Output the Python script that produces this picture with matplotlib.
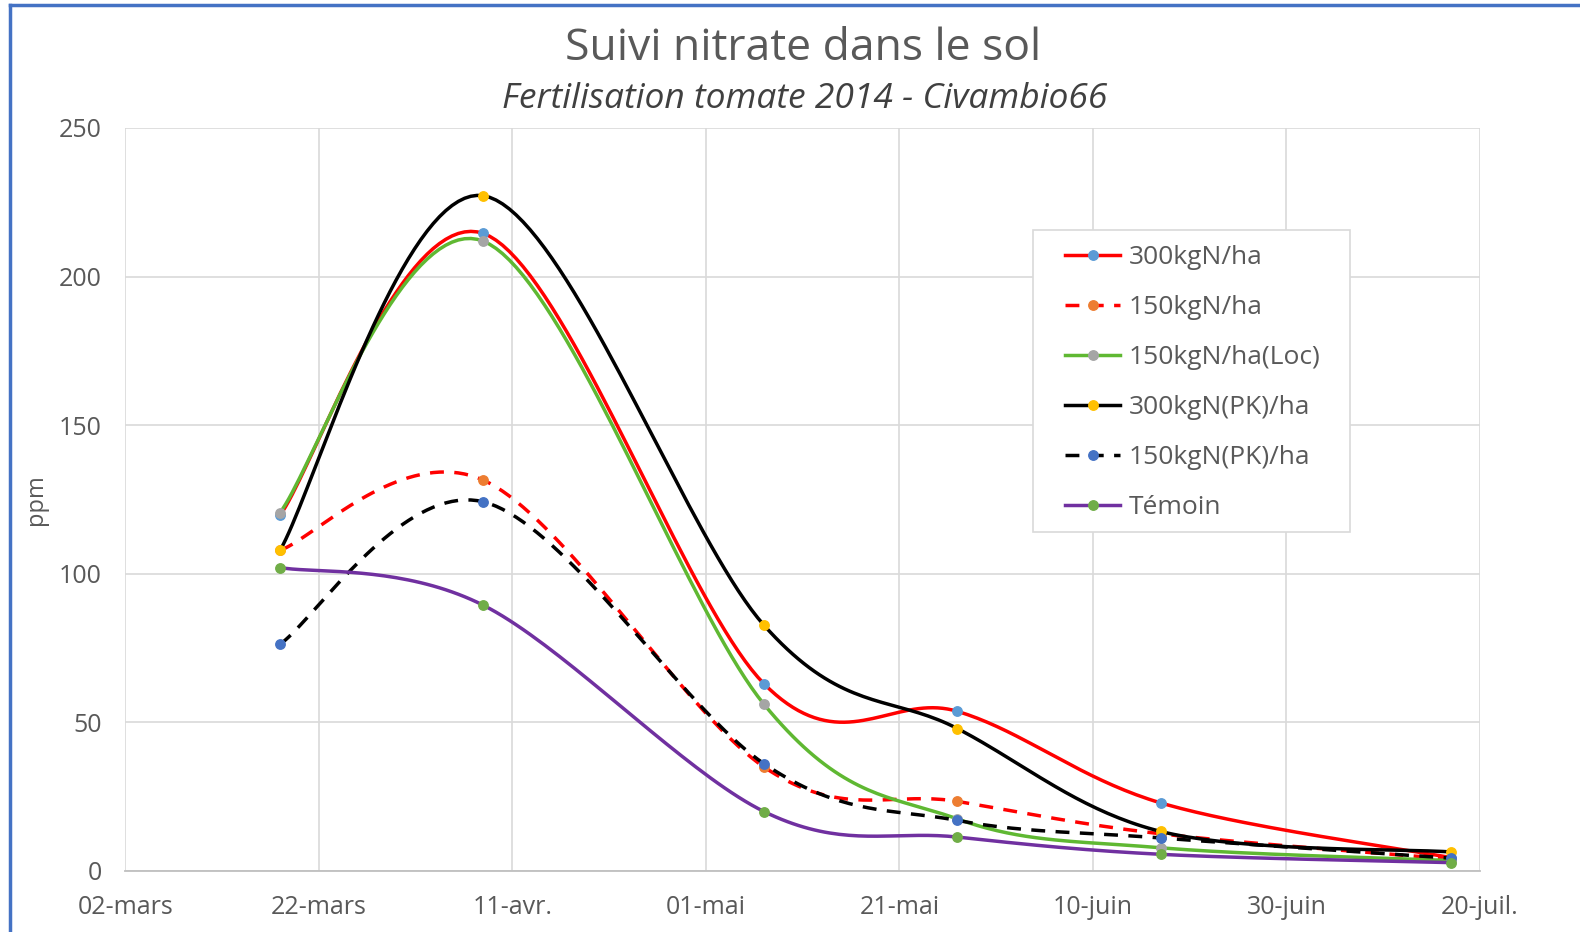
import numpy as np
import matplotlib
matplotlib.use("Agg")
import matplotlib.pyplot as plt
import matplotlib.dates as mdates
from matplotlib.lines import Line2D
from matplotlib.patches import Rectangle
from matplotlib.ticker import FuncFormatter
import datetime as dt

plt.rcParams['font.family'] = ['Open Sans', 'DejaVu Sans']

# dates de prélèvement
dates = ["2014-03-18", "2014-04-08", "2014-05-07", "2014-05-27", "2014-06-17", "2014-07-17"]

n300 = [119.7, 214.5, 63.0, 53.7, 22.9, 4.5]
n150 = [107.9, 131.5, 35.0, 23.4, 12.5, 4.0]
n150_loc = [120.6, 211.9, 56.1, 17.5, 7.8, 3.5]
n300_pk = [107.9, 227.2, 82.7, 47.9, 13.3, 6.4]
n150_pk = [76.3, 124.2, 36.1, 17.0, 11.1, 4.3]
temoin = [102.1, 89.4, 20.0, 11.4, 5.6, 2.8]

labels = ["300kgN/ha", "150kgN/ha", "150kgN/ha(Loc)", "300kgN(PK)/ha", "150kgN(PK)/ha", "Témoin"]
mois = ["janv.", "févr.", "mars", "avr.", "mai", "juin", "juil.", "août", "sept.", "oct.", "nov.", "déc."]

series = [n300, n150, n150_loc, n300_pk, n150_pk, temoin]
line_colors = ["#FF0000", "#FF0000", "#5FB832", "#000000", "#000000", "#7030A0"]
marker_colors = ["#5B9BD5", "#ED7D31", "#A5A5A5", "#FFC000", "#4472C4", "#70AD47"]
dashed = [False, True, False, False, True, False]


def smooth(x, y, n=40):
    """courbe lissée façon Excel (Bézier / Catmull-Rom)"""
    x = np.asarray(x, float)
    y = np.asarray(y, float)
    px = np.concatenate([[x[0]], x, [x[-1]]])
    py = np.concatenate([[y[0]], y, [y[-1]]])
    xs, ys = [], []
    t = np.linspace(0, 1, n)
    for i in range(1, len(px) - 2):
        p0 = np.array([px[i], py[i]])
        p3 = np.array([px[i + 1], py[i + 1]])
        p1 = p0 + (np.array([px[i + 1], py[i + 1]]) - np.array([px[i - 1], py[i - 1]])) / 6
        p2 = p3 - (np.array([px[i + 2], py[i + 2]]) - np.array([px[i], py[i]])) / 6
        b = ((1 - t) ** 3)[:, None] * p0 + (3 * (1 - t) ** 2 * t)[:, None] * p1 \
            + (3 * (1 - t) * t ** 2)[:, None] * p2 + (t ** 3)[:, None] * p3
        xs.extend(b[:, 0])
        ys.extend(b[:, 1])
    return np.array(xs), np.array(ys)


xd = mdates.date2num([dt.datetime.strptime(d, "%Y-%m-%d") for d in dates])

fig = plt.figure(figsize=(15.8, 9.32), dpi=100)
ax = fig.add_axes([0.0793, 0.0655, 0.8574, 0.7972])

handles = []
for vals, lc, mc, ds, lab in zip(series, line_colors, marker_colors, dashed, labels):
    sx, sy = smooth(xd, vals)
    ls = (0, (4, 3)) if ds else '-'
    ax.plot(sx, sy, color=lc, lw=2.5, ls=ls, solid_capstyle='round', dash_capstyle='butt')
    ax.plot(xd, vals, 'o', color=mc, ms=6.8, mec=mc)
    handles.append(Line2D([], [], color=lc, lw=2.5, ls=ls, marker='o', ms=6.8,
                          markerfacecolor=mc, markeredgecolor=mc, label=lab))

x0 = mdates.date2num(dt.datetime(2014, 3, 2))
x1 = mdates.date2num(dt.datetime(2014, 7, 20))
ax.set_xlim(x0, x1)
ax.set_ylim(0, 250)
ax.set_xticks(np.arange(x0, x1 + 1, 20))
ax.set_yticks(np.arange(0, 251, 50))


def fmt_date(v, pos):
    d = mdates.num2date(v)
    return f"{d.day:02d}-{mois[d.month - 1]}"


ax.xaxis.set_major_formatter(FuncFormatter(fmt_date))
ax.grid(True, color="#D9D9D9", lw=1.2)
ax.set_axisbelow(True)
for s in ["top", "right", "left"]:
    ax.spines[s].set_visible(False)
ax.spines["bottom"].set_color("#BFBFBF")
ax.spines["bottom"].set_linewidth(1.3)
ax.tick_params(axis='both', length=0, labelsize=18, labelcolor="#595959")
ax.tick_params(axis='y', pad=17)
ax.tick_params(axis='x', pad=17)
ax.set_ylabel("ppm", fontsize=17, color="#595959", labelpad=8)

fig.text(0.508, 0.948, "Suivi nitrate dans le sol", ha='center', va='center',
         fontsize=32, color="#595959")
fig.text(0.509, 0.894, "Fertilisation tomate 2014 - Civambio66", ha='center', va='center',
         fontsize=25.5, style='italic', weight='medium', color="#404040")

# cadre de la légende
ax.add_patch(Rectangle((0.670, 0.456), 0.234, 0.407, transform=ax.transAxes,
                       facecolor="white", edgecolor="#D9D9D9", lw=1.2, zorder=4))
leg = ax.legend(handles=handles, loc='upper left', bbox_to_anchor=(0.6937, 0.8425),
                borderaxespad=0, fontsize=19, labelspacing=0.95, handlelength=2.1,
                handletextpad=0.3, borderpad=0, frameon=False)
leg.set_zorder(5)
for t in leg.get_texts():
    t.set_color("#595959")

# cadre bleu
fig.add_artist(Line2D([0.0065, 0.0065], [0, 0.995], color="#4472C4", lw=2.5, transform=fig.transFigure))
fig.add_artist(Line2D([0.0065, 1], [0.995, 0.995], color="#4472C4", lw=2.5, transform=fig.transFigure))

fig.savefig("out.png", dpi=100)
